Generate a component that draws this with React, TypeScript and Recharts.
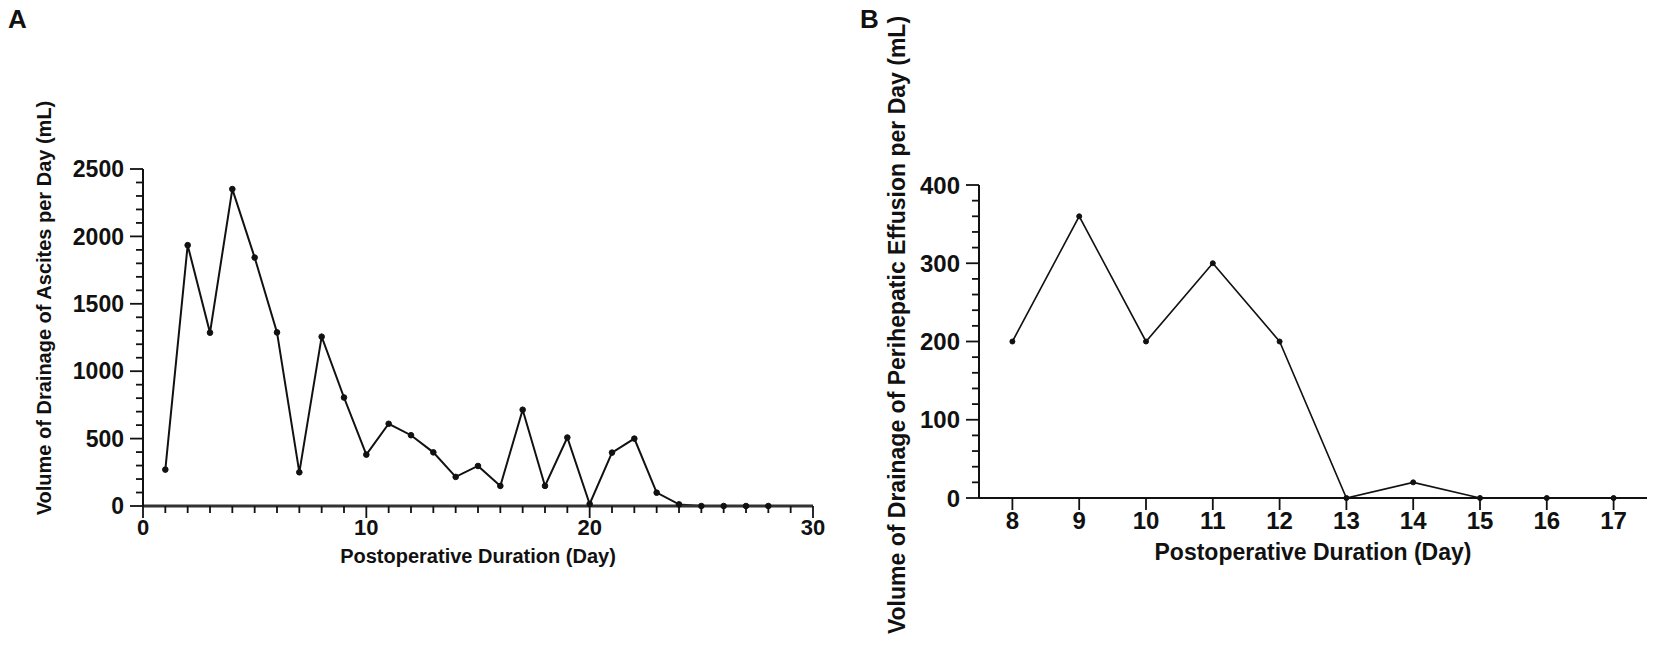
import { LineChart, Line, XAxis, YAxis } from "recharts";

// ---------------------------------------------------------------------------
// Data
// ---------------------------------------------------------------------------

// Panel A: ascites drainage per postoperative day
const DAYS_A = [
  1, 2, 3, 4, 5, 6, 7, 8, 9, 10, 11, 12, 13, 14, 15, 16, 17, 18, 19, 20, 21,
  22, 23, 24, 25, 26, 27, 28,
];
const ASCITES_ML = [
  270, 1935, 1286, 2351, 1843, 1288, 250, 1256, 805, 381, 610, 525, 398, 216,
  297, 149, 714, 149, 508, 15, 396, 500, 99, 12, 0, 0, 0, 0,
];
const X_TICKS_A = [
  0, 1, 2, 3, 4, 5, 6, 7, 8, 9, 10, 11, 12, 13, 14, 15, 16, 17, 18, 19, 20, 21,
  22, 23, 24, 25, 26, 27, 28, 29, 30,
];
const Y_TICKS_A = [
  0, 100, 200, 300, 400, 500, 600, 700, 800, 900, 1000, 1100, 1200, 1300, 1400,
  1500, 1600, 1700, 1800, 1900, 2000, 2100, 2200, 2300, 2400, 2500,
];

// Panel B: perihepatic effusion drainage per postoperative day
const DAYS_B = [8, 9, 10, 11, 12, 13, 14, 15, 16, 17];
const EFFUSION_ML = [200, 360, 200, 300, 200, 0, 20, 0, 0, 0];
const X_TICKS_B = [8, 9, 10, 11, 12, 13, 14, 15, 16, 17];
const Y_TICKS_B = [
  0, 20, 40, 60, 80, 100, 120, 140, 160, 180, 200, 220, 240, 260, 280, 300, 320,
  340, 360, 380, 400,
];

const X_TITLE = "Postoperative Duration (Day)";
const Y_TITLE_A = "Volume of Drainage of Ascites per Day (mL)";
const Y_TITLE_B = "Volume of Drainage of Perihepatic Effusion per Day (mL)";

// ---------------------------------------------------------------------------
// Style
// ---------------------------------------------------------------------------

const FONT = '"Liberation Sans", Arial, Helvetica, sans-serif';
const INK = "#111";

// ---------------------------------------------------------------------------
// Helpers
// ---------------------------------------------------------------------------

function makeYTick(majorStep: number, fontSize: number) {
  return function YTick(props: any) {
    const { x, y, payload } = props;
    const v = payload.value as number;
    const major = v % majorStep === 0;
    const len = major ? 13 : 7;
    return (
      <g>
        <line x1={x - len} y1={y} x2={x} y2={y} stroke={INK} strokeWidth={1.8} />
        {major && (
          <text
            x={x - len - 6}
            y={y + fontSize * 0.36}
            textAnchor="end"
            fontSize={fontSize}
            fontWeight="bold"
            fontFamily={FONT}
            fill={INK}
          >
            {v}
          </text>
        )}
      </g>
    );
  };
}

function makeXTick(majorStep: number, fontSize: number, gap: number) {
  return function XTick(props: any) {
    const { x, y, payload } = props;
    const v = payload.value as number;
    const major = v % majorStep === 0;
    const len = major ? 12 : 7;
    return (
      <g>
        <line x1={x} y1={y} x2={x} y2={y + len} stroke={INK} strokeWidth={1.8} />
        {major && (
          <text
            x={x}
            y={y + len + gap + fontSize * 0.72}
            textAnchor="middle"
            fontSize={fontSize}
            fontWeight="bold"
            fontFamily={FONT}
            fill={INK}
          >
            {v}
          </text>
        )}
      </g>
    );
  };
}

function yTitle(text: string, cx: number, cy: number, size: number) {
  return () => (
    <text
      x={cx}
      y={cy}
      transform={`rotate(-90 ${cx} ${cy})`}
      textAnchor="middle"
      dominantBaseline="central"
      fontSize={size}
      fontWeight="bold"
      fontFamily={FONT}
      fill={INK}
    >
      {text}
    </text>
  );
}

function xTitle(text: string, cx: number, cy: number, size: number) {
  return () => (
    <text
      x={cx}
      y={cy}
      textAnchor="middle"
      dominantBaseline="central"
      fontSize={size}
      fontWeight="bold"
      fontFamily={FONT}
      fill={INK}
    >
      {text}
    </text>
  );
}

const dataA = DAYS_A.map((d, i) => ({ day: d, value: ASCITES_ML[i] }));
const dataB = DAYS_B.map((d, i) => ({ day: d, value: EFFUSION_ML[i] }));

const YTickA = makeYTick(500, 23);
const XTickA = makeXTick(10, 22, 1);
const YTickB = makeYTick(100, 24);
const XTickB = makeXTick(1, 24, 2);

const panelLetter = (left: number): React.CSSProperties => ({
  position: "absolute",
  left,
  top: 4,
  fontFamily: FONT,
  fontWeight: "bold",
  fontSize: 26,
  lineHeight: "30px",
  color: INK,
});

// ---------------------------------------------------------------------------
// Component
// ---------------------------------------------------------------------------

export default function App() {
  return (
    <div
      style={{
        position: "absolute",
        left: 0,
        top: 0,
        width: 1654,
        height: 659,
        background: "#fff",
        overflow: "hidden",
      }}
    >
      <div style={panelLetter(8)}>A</div>
      <div style={panelLetter(860)}>B</div>

      {/* Panel A */}
      <div style={{ position: "absolute", left: 0, top: 0 }}>
        <LineChart
          width={840}
          height={659}
          data={dataA}
          margin={{ top: 169, right: 27, bottom: 93, left: 0 }}
        >
          <XAxis
            dataKey="day"
            type="number"
            domain={[0, 30]}
            ticks={X_TICKS_A}
            interval={0}
            tickSize={0}
            tickMargin={0}
            tickLine={false}
            tick={XTickA}
            height={60}
            axisLine={{ stroke: "#333", strokeWidth: 3 }}
            label={xTitle(X_TITLE, 478, 556, 20)}
          />
          <YAxis
            type="number"
            domain={[0, 2500]}
            ticks={Y_TICKS_A}
            interval={0}
            tickSize={0}
            tickMargin={0}
            tickLine={false}
            tick={YTickA}
            width={143}
            axisLine={{ stroke: INK, strokeWidth: 2 }}
            label={yTitle(Y_TITLE_A, 44, 308, 20)}
          />
          <Line
            type="linear"
            dataKey="value"
            stroke={INK}
            strokeWidth={2}
            dot={{ r: 2.8, fill: INK, stroke: INK, strokeWidth: 1 }}
            isAnimationActive={false}
          />
        </LineChart>
      </div>

      {/* Panel B */}
      <div style={{ position: "absolute", left: 840, top: 0 }}>
        <LineChart
          width={814}
          height={659}
          data={dataB}
          margin={{ top: 185, right: 7, bottom: 101, left: 0 }}
        >
          <XAxis
            dataKey="day"
            type="number"
            domain={[7.5, 17.5]}
            ticks={X_TICKS_B}
            interval={0}
            tickSize={0}
            tickMargin={0}
            tickLine={false}
            tick={XTickB}
            height={60}
            axisLine={{ stroke: INK, strokeWidth: 2 }}
            label={xTitle(X_TITLE, 473, 552, 23)}
          />
          <YAxis
            type="number"
            domain={[0, 400]}
            ticks={Y_TICKS_B}
            interval={0}
            tickSize={0}
            tickMargin={0}
            tickLine={false}
            tick={YTickB}
            width={139}
            axisLine={{ stroke: INK, strokeWidth: 2 }}
            label={yTitle(Y_TITLE_B, 57, 325, 23)}
          />
          <Line
            type="linear"
            dataKey="value"
            stroke={INK}
            strokeWidth={1.6}
            dot={{ r: 2.5, fill: INK, stroke: INK, strokeWidth: 1 }}
            isAnimationActive={false}
          />
        </LineChart>
      </div>
    </div>
  );
}
